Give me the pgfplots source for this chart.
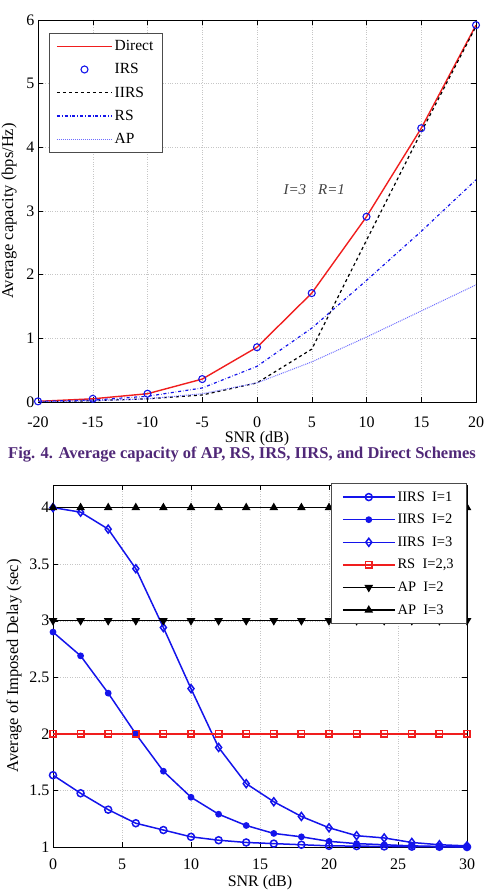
\documentclass[border=0pt]{standalone}
\usepackage{pgfplots}
\pgfplotsset{compat=1.18}
\usepackage{fontspec}
\setmainfont{Liberation Serif}
\definecolor{capcol}{RGB}{80,40,120}
\definecolor{apblue}{RGB}{110,110,255}
\definecolor{myblue}{RGB}{20,20,235}
\definecolor{myred}{RGB}{240,30,30}

\pgfplotsset{
  every axis/.append style={
    scale only axis,
    anchor=south west,
    /pgf/number format/assume math mode=true,
    grid=major,
    grid style={dotted, gray!45},
    tick style={black, thin},
    major tick length=5pt,
    axis line style={black, thin},
    ticklabel style={font=\fontsize{16}{16}\selectfont},
    xlabel style={font=\fontsize{16}{16}\selectfont},
    ylabel style={font=\fontsize{16.5}{16.5}\selectfont},
    legend cell align=left,
  },
}

\begin{document}
\begin{tikzpicture}
\useasboundingbox (0,0) rectangle (483pt,891pt);

% ---------- capacity versus SNR ----------
\begin{axis}[
  at={(38pt,489pt)}, width=438pt, height=382pt,
  xmin=-20, xmax=20, ymin=0, ymax=6,
  xtick={-20,-15,...,20}, ytick={0,1,...,6},
  xlabel={SNR (dB)}, ylabel={Average capacity (bps/Hz)},
  xticklabel style={yshift=-11pt},
  xlabel style={yshift=3pt},
  ylabel style={yshift=3pt},
  legend style={at={(rel axis cs:0.025,0.966)}, anchor=north west,
    draw=black!70, line width=0.7pt, font=\fontsize{15.5}{15.5}\selectfont,
    row sep=7.5pt, inner xsep=7pt, inner ysep=5pt},
  legend image code/.code={
    \draw[mark repeat=2,mark phase=2,#1] plot coordinates {(0pt,0pt) (27.5pt,0pt) (55pt,0pt)};
  },
]
\addplot[myred, line width=1.4pt] coordinates {
  (-20,0.01) (-15,0.05) (-10,0.13) (-5,0.36) (0,0.86) (5,1.71) (10,2.91) (15,4.30) (20,5.92)};
\addlegendentry{Direct}
\addplot[only marks, myblue, mark=o, mark size=3.5pt, line width=1.1pt] coordinates {
  (-20,0.01) (-15,0.05) (-10,0.13) (-5,0.36) (0,0.86) (5,1.71) (10,2.91) (15,4.30) (20,5.92)};
\addlegendentry{IRS}
\addplot[black, dashed, line width=1.2pt] coordinates {
  (-20,0.00) (-15,0.02) (-10,0.05) (-5,0.11) (0,0.30) (5,0.83) (10,2.54) (15,4.24) (20,5.90)};
\addlegendentry{IIRS}
\addplot[myblue, dash dot, line width=1.2pt] coordinates {
  (-20,0.01) (-15,0.03) (-10,0.09) (-5,0.22) (0,0.56) (5,1.16) (10,1.91) (15,2.68) (20,3.49)};
\addlegendentry{RS}
\addplot[apblue, densely dotted, line width=1.0pt] coordinates {
  (-20,0.00) (-15,0.02) (-10,0.05) (-5,0.13) (0,0.30) (5,0.63) (10,1.02) (15,1.43) (20,1.84)};
\addlegendentry{AP}
\node[anchor=west, text=black!75, font=\fontsize{15}{15}\selectfont\itshape]
  at (axis cs:2.1,3.33) {I=3\hspace{12pt}R=1};
\end{axis}

\node[font=\fontsize{16.5}{17}\selectfont\bfseries, text=capcol]
  at (242pt,436pt) {Fig. 4. Average capacity of AP, RS, IRS, IIRS, and Direct Schemes};

% ---------- imposed delay versus SNR ----------
\begin{axis}[
  at={(53pt,44pt)}, width=414pt, height=362pt,
  xmin=0, xmax=30, ymin=1, ymax=4.2,
  xtick={0,5,...,30}, ytick={1,1.5,...,4},
  xlabel={SNR (dB)}, ylabel={Average of Imposed Delay (sec)},
  xticklabel style={yshift=-8pt},
  xlabel style={yshift=1pt},
  ylabel style={yshift=1pt},
  legend style={at={(rel axis cs:1,1.005)}, anchor=north east,
    draw=black!70, line width=0.7pt, font=\fontsize{14.5}{14.5}\selectfont,
    row sep=7.5pt, inner xsep=11pt, inner ysep=6pt},
  legend image code/.code={
    \draw[mark repeat=2,mark phase=2,#1] plot coordinates {(0pt,0pt) (26pt,0pt) (52pt,0pt)};
  },
]
\addplot[myblue, line width=1.5pt, mark=o, mark size=3.5pt] coordinates {
  (0,1.635) (2,1.475) (4,1.33) (6,1.21) (8,1.15) (10,1.09) (12,1.06) (14,1.04)
  (16,1.03) (18,1.02) (20,1.01) (22,1.008) (24,1.005) (26,1.003) (28,1.002) (30,1.0)};
\addlegendentry{IIRS\ \ I=1}
\addplot[myblue, line width=1.5pt, mark=*, mark size=2.6pt] coordinates {
  (0,2.90) (2,2.69) (4,2.36) (6,2.00) (8,1.67) (10,1.44) (12,1.29) (14,1.19)
  (16,1.12) (18,1.09) (20,1.05) (22,1.03) (24,1.02) (26,1.01) (28,1.005) (30,1.0)};
\addlegendentry{IIRS\ \ I=2}
\addplot[myblue, line width=1.5pt, mark=diamond, mark size=4pt] coordinates {
  (0,4.00) (2,3.96) (4,3.81) (6,3.46) (8,2.94) (10,2.40) (12,1.88) (14,1.56)
  (16,1.40) (18,1.27) (20,1.17) (22,1.10) (24,1.08) (26,1.04) (28,1.02) (30,1.01)};
\addlegendentry{IIRS\ \ I=3}
\addplot[myred, line width=1.5pt, mark=square, mark size=3.2pt] coordinates {
  (0,2) (2,2) (4,2) (6,2) (8,2) (10,2) (12,2) (14,2)
  (16,2) (18,2) (20,2) (22,2) (24,2) (26,2) (28,2) (30,2)};
\addlegendentry{RS\ \ I=2,3}
\addplot[black, line width=1.5pt, mark=triangle*, mark size=3.5pt,
  mark options={rotate=180}] coordinates {
  (0,3) (2,3) (4,3) (6,3) (8,3) (10,3) (12,3) (14,3)
  (16,3) (18,3) (20,3) (22,3) (24,3) (26,3) (28,3) (30,3)};
\addlegendentry{AP\ \ I=2}
\addplot[black, line width=1.5pt, mark=triangle*, mark size=3.5pt] coordinates {
  (0,4) (2,4) (4,4) (6,4) (8,4) (10,4) (12,4) (14,4)
  (16,4) (18,4) (20,4) (22,4) (24,4) (26,4) (28,4) (30,4)};
\addlegendentry{AP\ \ I=3}
\end{axis}
\end{tikzpicture}
\end{document}
